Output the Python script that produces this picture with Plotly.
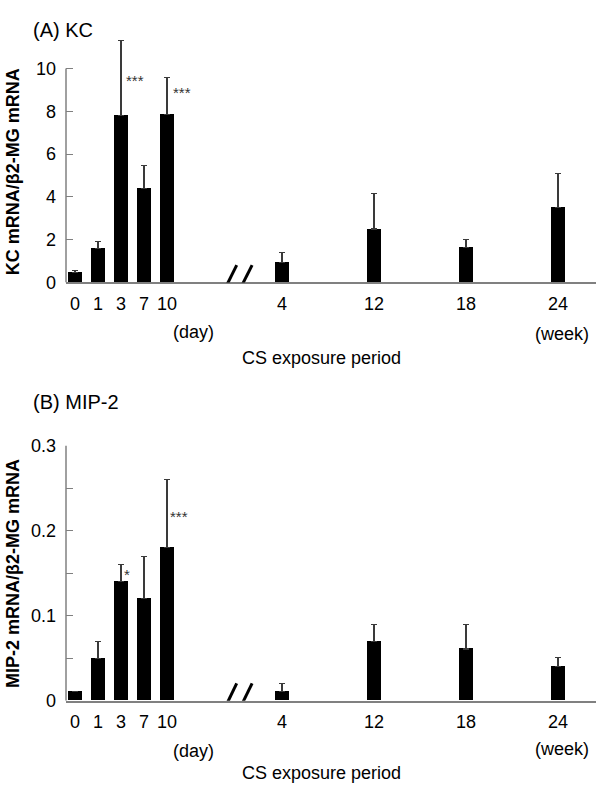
import plotly.graph_objects as go

# ---------------- data ----------------
tick_labels = ["0", "1", "3", "7", "10", "4", "12", "18", "24"]
positions = [0, 1, 2, 3, 4, 9, 13, 17, 21]   # day 0-10, break, week 4-24

kc_mean = [0.45, 1.6, 7.8, 4.4, 7.85, 0.95, 2.5, 1.62, 3.5]
kc_sd = [0.1, 0.3, 3.5, 1.05, 1.72, 0.45, 1.65, 0.4, 1.6]

mip2_mean = [0.011, 0.05, 0.14, 0.12, 0.18, 0.011, 0.07, 0.061, 0.04]
mip2_sd = [None, 0.02, 0.02, 0.05, 0.08, 0.009, 0.02, 0.029, 0.011]

kc_stars = [(2.63, 9.45, "***"), (4.67, 8.88, "***")]
mip2_stars = [(2.27, 0.148, "*"), (4.52, 0.217, "***")]

FONT = "Liberation Sans, Arial, sans-serif"
AXC = "#808080"
W, H = 600, 794

def py(p):  # pixel y -> paper
    return 1 - p / H

def px(p):
    return p / W

fig = go.Figure()

for mean, sd, xa, ya in [(kc_mean, kc_sd, "x", "y"), (mip2_mean, mip2_sd, "x2", "y2")]:
    fig.add_trace(go.Bar(
        x=positions, y=mean, width=0.6, xaxis=xa, yaxis=ya,
        marker=dict(color="black", line=dict(width=0)),
        error_y=dict(type="data", symmetric=False, array=sd,
                     arrayminus=[0] * len(sd), color="#3a3a3a",
                     thickness=1.2, width=3),
        showlegend=False,
    ))

xr = [-0.391, 22.652]
common_x = dict(range=xr, tickvals=positions, ticktext=tick_labels,
                showline=True, linecolor=AXC, linewidth=1.5, ticks="",
                showgrid=False, zeroline=False, fixedrange=True,
                tickfont=dict(family=FONT, size=18, color="black"),
                ticklabelstandoff=4)

fig.update_layout(
    width=W, height=H, margin=dict(l=0, r=0, t=0, b=0),
    paper_bgcolor="white", plot_bgcolor="white",
    bargap=0,
    xaxis=dict(domain=[px(66), px(596)], anchor="y", **common_x),
    xaxis2=dict(domain=[px(66), px(596)], anchor="y2", **common_x),
    yaxis=dict(domain=[py(279.5), py(27.1)], anchor="x", range=[0, 11.5],
               tickvals=[0, 2, 4, 6, 8, 10], ticktext=["0", "2", "4", "6", "8", "10"],
               ticks="inside", ticklen=7, tickcolor=AXC, tickwidth=1.2,
               showline=False, showgrid=False, zeroline=False, fixedrange=True,
               tickfont=dict(family=FONT, size=18, color="black"),
               ticklabelstandoff=9),
    yaxis2=dict(domain=[py(708.7), py(446.7)], anchor="x2", range=[0, 0.3],
                tickvals=[0, 0.05, 0.1, 0.15, 0.2, 0.25, 0.3],
                ticktext=["0", "", "0.1", "", "0.2", "", "0.3"],
                ticks="inside", ticklen=7, tickcolor=AXC, tickwidth=1.2,
                showline=False, showgrid=False, zeroline=False, fixedrange=True,
                tickfont=dict(family=FONT, size=18, color="black"),
                ticklabelstandoff=9),
)

shapes = []
# y-axis lines
shapes.append(dict(type="line", xref="x domain", x0=0, x1=0, yref="y", y0=0, y1=10,
                   line=dict(color=AXC, width=1.5)))
shapes.append(dict(type="line", xref="x2 domain", x0=0, x1=0, yref="y2", y0=0, y1=0.3,
                   line=dict(color=AXC, width=1.5)))
# axis break marks
for xa, ya, ylo, yhi in [("x", "y", -0.556, 0.81), ("x2", "y2", -0.0149, 0.0206)]:
    for x0, x1 in [(6.4, 7.03), (7.06, 7.7)]:
        shapes.append(dict(type="line", xref=xa, yref=ya, x0=x0, x1=x1, y0=ylo, y1=yhi,
                           line=dict(color="black", width=3)))
fig.update_layout(shapes=shapes)

ann = []
for xa, ya, stars in [("x", "y", kc_stars), ("x2", "y2", mip2_stars)]:
    for sx, sy, st in stars:
        ann.append(dict(x=sx, y=sy, xref=xa, yref=ya, text=st, showarrow=False,
                        font=dict(family=FONT, size=15, color="#333333")))

def txt(t, xpix, ypix, size=18, bold=False, angle=0, xanchor="center"):
    return dict(x=px(xpix), y=py(ypix), xref="paper", yref="paper",
                text=f"<b>{t}</b>" if bold else t, showarrow=False, textangle=angle,
                xanchor=xanchor, yanchor="middle",
                font=dict(family=FONT, size=size, color="black"))

ann += [
    txt("(A) KC", 31, 20.5, size=20, xanchor="left"),
    txt("(B) MIP-2", 31, 401.7, size=20, xanchor="left"),
    txt("KC mRNA/β2-MG mRNA", 13, 166.5, bold=True, angle=-90),
    txt("MIP-2 mRNA/β2-MG mRNA", 13, 578.5, bold=True, angle=-90),
    txt("(day)", 194, 330),
    txt("(week)", 561.7, 332.7),
    txt("CS exposure period", 321, 356.7),
    txt("(day)", 194, 760),
    txt("(week)", 561.7, 758),
    txt("CS exposure period", 321, 782.7),
]
fig.update_layout(annotations=ann)

post = ("document.documentElement.style.margin='0';document.body.style.margin='0';"
        "document.body.style.padding='0';"
        "document.documentElement.style.overflow='hidden';"
        "document.body.style.overflow='hidden';"
        "var gd=document.getElementById('{plot_id}');"
        "gd.style.position='fixed';gd.style.top='0px';gd.style.left='0px';")
fig.write_html("out.html", post_script=post, config={"displayModeBar": False})
